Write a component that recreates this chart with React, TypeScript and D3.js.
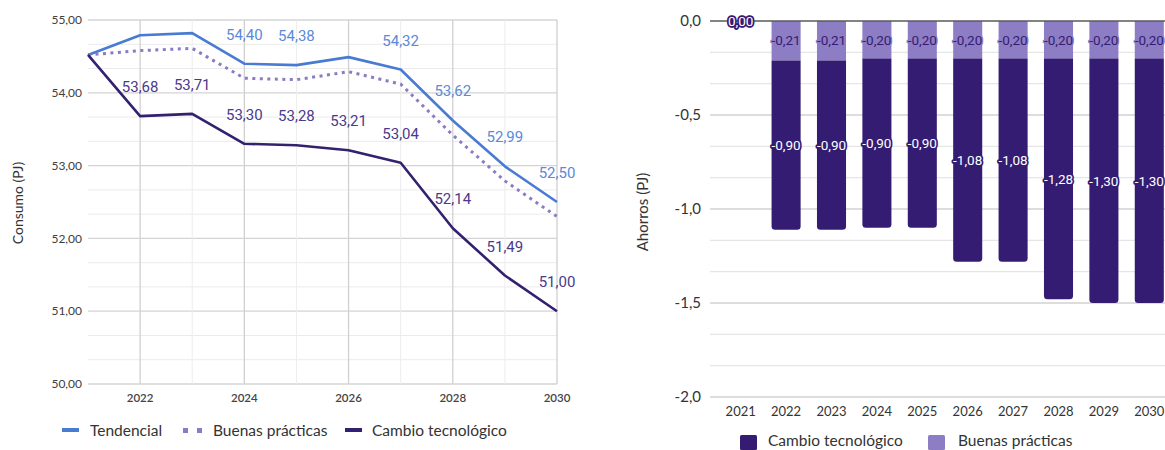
import React from "react";
import * as d3 from "d3";

const years = [2021, 2022, 2023, 2024, 2025, 2026, 2027, 2028, 2029, 2030];
const tendencial = [54.52, 54.79, 54.82, 54.40, 54.38, 54.49, 54.32, 53.62, 52.99, 52.50];
const buenasPracticas = [54.52, 54.58, 54.61, 54.20, 54.18, 54.29, 54.12, 53.42, 52.79, 52.30];
const cambioTecnologico = [54.52, 53.68, 53.71, 53.30, 53.28, 53.21, 53.04, 52.14, 51.49, 51.00];
const tendencialLabelYears = [2024, 2025, 2027, 2028, 2029, 2030];
const cambioLabelYears = [2022, 2023, 2024, 2025, 2026, 2027, 2028, 2029, 2030];
const leftYTicks = [50, 51, 52, 53, 54, 55];
const leftXTicks = [2022, 2024, 2026, 2028, 2030];

const ahorroBuenas = [0.0, 0.21, 0.21, 0.20, 0.20, 0.20, 0.20, 0.20, 0.20, 0.20];
const ahorroCambio = [0.0, 0.90, 0.90, 0.90, 0.90, 1.08, 1.08, 1.28, 1.30, 1.30];
const rightYTicks = [0, -0.5, -1.0, -1.5, -2.0];

const C_TEND = "#4a7bd2";
const C_TEND_LBL = "#5a8ad8";
const C_BP = "#8c7bc3";
const C_CT = "#33206f";
const C_CT_LBL = "#4a3a8c";
const C_BAR_DARK = "#341c72";
const C_BAR_LIGHT = "#8d7dc4";

const fmt2 = (v: number) => v.toFixed(2).replace(".", ",");
const fmt1 = (v: number) => v.toFixed(1).replace(".", ",");

function LeftChart() {
  const x = d3.scaleLinear().domain([2021, 2030]).range([88, 557]);
  const y = d3.scaleLinear().domain([50, 55]).range([384, 20]);
  const gridVals = d3.range(0, 16).map((k) => 50 + k / 3);
  const line = d3
    .line<number>()
    .x((_, i) => x(years[i]))
    .y((d) => y(d));
  return (
    <g>
      {gridVals.map((v, i) => (
        <line
          key={"h" + i}
          x1={88}
          x2={557}
          y1={y(v)}
          y2={y(v)}
          stroke={i % 3 === 0 ? "#d4d4d4" : "#ebebeb"}
          strokeWidth={i % 3 === 0 ? 1.3 : 1}
        />
      ))}
      {years.slice(1).map((yr) => (
        <line
          key={"v" + yr}
          x1={x(yr)}
          x2={x(yr)}
          y1={20}
          y2={384}
          stroke={yr % 2 === 0 ? "#d0d0d0" : "#ededed"}
          strokeWidth={yr % 2 === 0 ? 1.3 : 1}
        />
      ))}
      {leftYTicks.map((t) => (
        <text
          key={"yt" + t}
          x={82}
          y={y(t)}
          dy="0.35em"
          textAnchor="end"
          fontFamily="Lato"
          fontSize={12}
          fill="#404040"
        >
          {fmt2(t)}
        </text>
      ))}
      {leftXTicks.map((t) => (
        <text
          key={"xt" + t}
          x={x(t)}
          y={402}
          textAnchor="middle"
          fontFamily="Lato"
          fontSize={11.5}
          fontWeight={600}
          fill="#444"
        >
          {t}
        </text>
      ))}
      <text
        transform="translate(23,203) rotate(-90)"
        textAnchor="middle"
        fontFamily="Lato"
        fontSize={14}
        fill="#333"
      >
        Consumo (PJ)
      </text>
      <path d={line(tendencial) || ""} fill="none" stroke={C_TEND} strokeWidth={2.6} strokeLinejoin="round" />
      <path
        d={line(buenasPracticas) || ""}
        fill="none"
        stroke={C_BP}
        strokeWidth={3}
        strokeDasharray="3 4.5"
      />
      <path d={line(cambioTecnologico) || ""} fill="none" stroke={C_CT} strokeWidth={2.6} strokeLinejoin="round" />
      {tendencialLabelYears.map((yr) => {
        const i = years.indexOf(yr);
        return (
          <text
            key={"tl" + yr}
            x={x(yr)}
            y={y(tendencial[i]) - 24}
            textAnchor="middle"
            fontFamily="Roboto"
            fontSize={15}
            fill={C_TEND_LBL}
          >
            {fmt2(tendencial[i])}
          </text>
        );
      })}
      {cambioLabelYears.map((yr) => {
        const i = years.indexOf(yr);
        return (
          <text
            key={"cl" + yr}
            x={x(yr)}
            y={y(cambioTecnologico[i]) - 24}
            textAnchor="middle"
            fontFamily="Roboto"
            fontSize={15}
            fill={C_CT_LBL}
          >
            {fmt2(cambioTecnologico[i])}
          </text>
        );
      })}
      {/* legend */}
      <rect x={62} y={428} width={17} height={4} fill={C_TEND} />
      <text x={90} y={435.5} fontFamily="Lato" fontSize={15.5} fill="#333">Tendencial</text>
      <rect x={183} y={428} width={5} height={5} fill={C_BP} />
      <rect x={197} y={428} width={5} height={5} fill={C_BP} />
      <text x={213} y={435.5} fontFamily="Lato" fontSize={15.5} fill="#333">Buenas prácticas</text>
      <rect x={345} y={428} width={17} height={4} fill={C_CT} />
      <text x={372} y={435.5} fontFamily="Lato" fontSize={15.5} fill="#333">Cambio tecnológico</text>
    </g>
  );
}

function barPath(x0: number, w: number, yTop: number, yBot: number, r: number) {
  const rr = Math.min(r, Math.abs(yBot - yTop) / 2, w / 2);
  const p = d3.path();
  p.moveTo(x0, yTop);
  p.lineTo(x0 + w, yTop);
  p.lineTo(x0 + w, yBot - rr);
  p.quadraticCurveTo(x0 + w, yBot, x0 + w - rr, yBot);
  p.lineTo(x0 + rr, yBot);
  p.quadraticCurveTo(x0, yBot, x0, yBot - rr);
  p.closePath();
  return p.toString();
}

function RightChart() {
  const x = d3
    .scaleBand<number>()
    .domain(years)
    .range([718, 1172])
    .paddingInner(0.36)
    .paddingOuter(0.18);
  const y = d3.scaleLinear().domain([-2, 0]).range([397, 21]);
  const gridVals = d3.range(1, 13).map((k) => -k / 6);
  const bw = x.bandwidth();
  return (
    <g>
      {gridVals.map((v, i) => (
        <line
          key={"g" + i}
          x1={710}
          x2={1165}
          y1={y(v)}
          y2={y(v)}
          stroke={(i + 1) % 3 === 0 ? "#d2d2d2" : "#e6e6e6"}
          strokeWidth={1.3}
        />
      ))}
      {rightYTicks.map((t) => (
        <text
          key={"yt" + t}
          x={701}
          y={y(t)}
          dy="0.35em"
          textAnchor="end"
          fontFamily="Lato"
          fontSize={15}
          fill="#333"
        >
          {fmt1(t)}
        </text>
      ))}
      {years.map((yr) => (
        <text
          key={"xt" + yr}
          x={(x(yr) as number) + bw / 2}
          y={416}
          textAnchor="middle"
          fontFamily="Lato"
          fontSize={13}
          fill="#333"
        >
          {yr}
        </text>
      ))}
      <text
        transform="translate(648,212) rotate(-90)"
        textAnchor="middle"
        fontFamily="Lato"
        fontSize={15}
        fill="#333"
      >
        Ahorros (PJ)
      </text>
      {years.map((yr, i) => {
        const bp = ahorroBuenas[i];
        const ct = ahorroCambio[i];
        if (bp + ct === 0) return null;
        const x0 = x(yr) as number;
        return (
          <g key={"b" + yr}>
            <rect x={x0} y={y(0)} width={bw} height={y(-bp) - y(0)} fill={C_BAR_LIGHT} />
            <path d={barPath(x0, bw, y(-bp), y(-bp - ct), 3.5)} fill={C_BAR_DARK} />
          </g>
        );
      })}
      <line x1={710} x2={1165} y1={y(0)} y2={y(0)} stroke="#5a5a5a" strokeWidth={1.5} />
      {years.map((yr, i) => {
        const bp = ahorroBuenas[i];
        const cx = (x(yr) as number) + bw / 2;
        return (
          <text
            key={"lb" + yr}
            x={cx}
            y={y(-bp / 2)}
            dy="0.35em"
            textAnchor="middle"
            fontFamily="Roboto"
            fontSize={13.5}
            fill={C_BAR_DARK}
            stroke={C_BAR_LIGHT}
            strokeWidth={3}
            strokeLinejoin="round"
            paintOrder="stroke"
          >
            {fmt2(-bp).replace("-0,00", "0,00")}
          </text>
        );
      })}
      {years.map((yr, i) => {
        const bp = ahorroBuenas[i];
        const ct = ahorroCambio[i];
        const cx = (x(yr) as number) + bw / 2;
        return (
          <text
            key={"lc" + yr}
            x={cx}
            y={y(-bp - ct / 2)}
            dy="0.35em"
            textAnchor="middle"
            fontFamily="Roboto"
            fontSize={13.5}
            fill="#fff"
            stroke={C_BAR_DARK}
            strokeWidth={3.5}
            strokeLinejoin="round"
            paintOrder="stroke"
          >
            {fmt2(-ct).replace("-0,00", "0,00")}
          </text>
        );
      })}
      {/* legend */}
      <rect x={740} y={435} width={17} height={15} rx={1.5} fill={C_BAR_DARK} />
      <text x={768} y={446} fontFamily="Lato" fontSize={15.5} fill="#333">Cambio tecnológico</text>
      <rect x={928} y={435} width={17} height={15} rx={1.5} fill={C_BAR_LIGHT} />
      <text x={958} y={446} fontFamily="Lato" fontSize={15.5} fill="#333">Buenas prácticas</text>
    </g>
  );
}

export default function App() {
  return (
    <svg
      width={1165}
      height={450}
      viewBox="0 0 1165 450"
      style={{ position: "absolute", left: 0, top: 0, background: "#fff" }}
    >
      <rect x={0} y={0} width={1165} height={450} fill="#fff" />
      <LeftChart />
      <RightChart />
    </svg>
  );
}
